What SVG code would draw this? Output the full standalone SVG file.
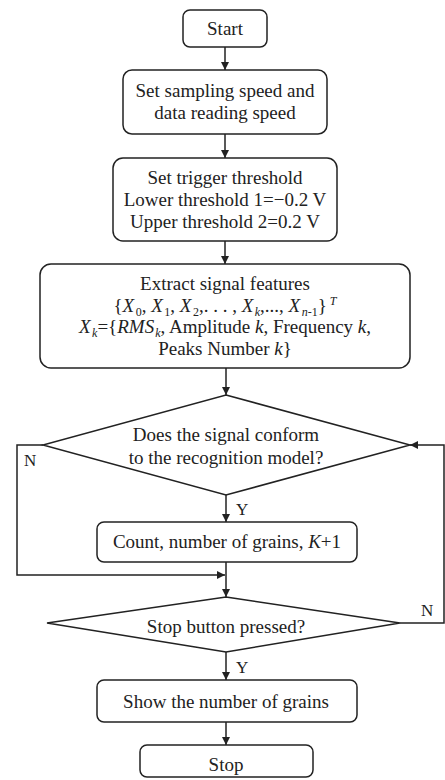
<svg xmlns="http://www.w3.org/2000/svg" width="445" height="780" viewBox="0 0 445 780">
  <style>
    .box { fill: #fff; stroke: #222; stroke-width: 1.5; }
    .lbl { font-family: "Liberation Serif", "Times New Roman", serif; font-size: 19px; fill: #222; text-anchor: middle; }
    .yn { font-family: "Liberation Serif", "Times New Roman", serif; font-size: 17px; fill: #222; }
    .it { font-style: italic; }
    .sub { font-size: 12px; baseline-shift: -4px; }
    .sup { font-size: 12px; baseline-shift: 7px; }
    .wire { fill: none; stroke: #222; stroke-width: 1.5; marker-end: url(#arrow); }
  </style>
  <defs>
    <marker id="arrow" viewBox="0 0 10 10" refX="10" refY="5" markerWidth="9" markerHeight="8" markerUnits="userSpaceOnUse" orient="auto">
      <path d="M0,0 L10,5 L0,10 Z" fill="#222"/>
    </marker>
  </defs>

  <!-- flow lines between the steps -->
  <g id="connectors">
    <path class="wire" d="M225,47 V70"/>
    <path class="wire" d="M225,134 V158"/>
    <path class="wire" d="M225,241 V264"/>
    <path class="wire" d="M226,368 V395"/>
    <path class="wire" d="M226,495 V522"/>
    <path class="wire" d="M226,562 V597"/>
    <path class="wire" d="M43,445 H17 V575 H225"/>
    <path class="wire" d="M226,652 V680"/>
    <path class="wire" d="M226,722 V745"/>
    <path class="wire" d="M400,623 H444 V445 H410"/>
  </g>
  <g id="edge-labels">
    <text class="yn" x="24" y="466">N</text>
    <text class="yn" x="236" y="515">Y</text>
    <text class="yn" x="236" y="673">Y</text>
    <text class="yn" x="421" y="616">N</text>
  </g>

  <g id="start">
    <rect class="box" x="183" y="10" width="84" height="37" rx="7"/>
    <text class="lbl" x="225" y="35">Start</text>
  </g>

  <g id="set-speed">
    <rect class="box" x="123" y="70" width="204" height="64" rx="9"/>
    <text class="lbl" x="225" y="97">Set sampling speed and</text>
    <text class="lbl" x="225" y="119">data reading speed</text>
  </g>

  <g id="set-threshold">
    <rect class="box" x="113" y="158" width="224" height="83" rx="10"/>
    <text class="lbl" x="225" y="184">Set trigger threshold</text>
    <text class="lbl" x="225" y="206">Lower threshold 1=−0.2 V</text>
    <text class="lbl" x="225" y="228">Upper threshold 2=0.2 V</text>
  </g>

  <g id="extract-features">
    <rect class="box" x="40" y="264" width="370" height="104" rx="11"/>
    <text class="lbl" x="225" y="290">Extract signal features</text>
    <text class="lbl" x="225" y="312">{<tspan class="it">X</tspan><tspan class="sub" dx="1.5">0</tspan>, <tspan class="it">X</tspan><tspan class="sub" dx="1.5">1</tspan>, <tspan class="it">X</tspan><tspan class="sub" dx="1.5">2</tspan>,. . . , <tspan class="it">X</tspan><tspan class="sub it" dx="1.5">k</tspan>,..., <tspan class="it">X</tspan><tspan class="sub" dx="1.5"><tspan class="it">n</tspan>-1</tspan>}<tspan class="sup it"> T</tspan></text>
    <text class="lbl" x="225" y="333"><tspan class="it">X</tspan><tspan class="sub it" dx="1.5">k</tspan>={<tspan class="it">RMS</tspan><tspan class="sub it" dx="1">k</tspan>, Amplitude <tspan class="it">k</tspan>, Frequency <tspan class="it">k</tspan>,</text>
    <text class="lbl" x="225" y="355">Peaks Number <tspan class="it">k</tspan>}</text>
  </g>

  <g id="recognition-check">
    <polygon class="box" points="226,395 410,445 226,495 43,445"/>
    <text class="lbl" x="226" y="441">Does the signal conform</text>
    <text class="lbl" x="226" y="464">to the recognition model?</text>
  </g>

  <g id="count">
    <rect class="box" x="97" y="522" width="260" height="40" rx="7"/>
    <text class="lbl" x="227" y="548">Count, number of grains, <tspan class="it">K</tspan>+1</text>
  </g>

  <g id="stop-check">
    <polygon class="box" points="226,597 400,623 226,652 47,623"/>
    <text class="lbl" x="226" y="633">Stop button pressed?</text>
  </g>

  <g id="show-count">
    <rect class="box" x="97" y="680" width="260" height="42" rx="7"/>
    <text class="lbl" x="226" y="708">Show the number of grains</text>
  </g>

  <g id="stop">
    <rect class="box" x="140" y="745" width="173" height="32" rx="7"/>
    <text class="lbl" x="226" y="771">Stop</text>
  </g>
</svg>
